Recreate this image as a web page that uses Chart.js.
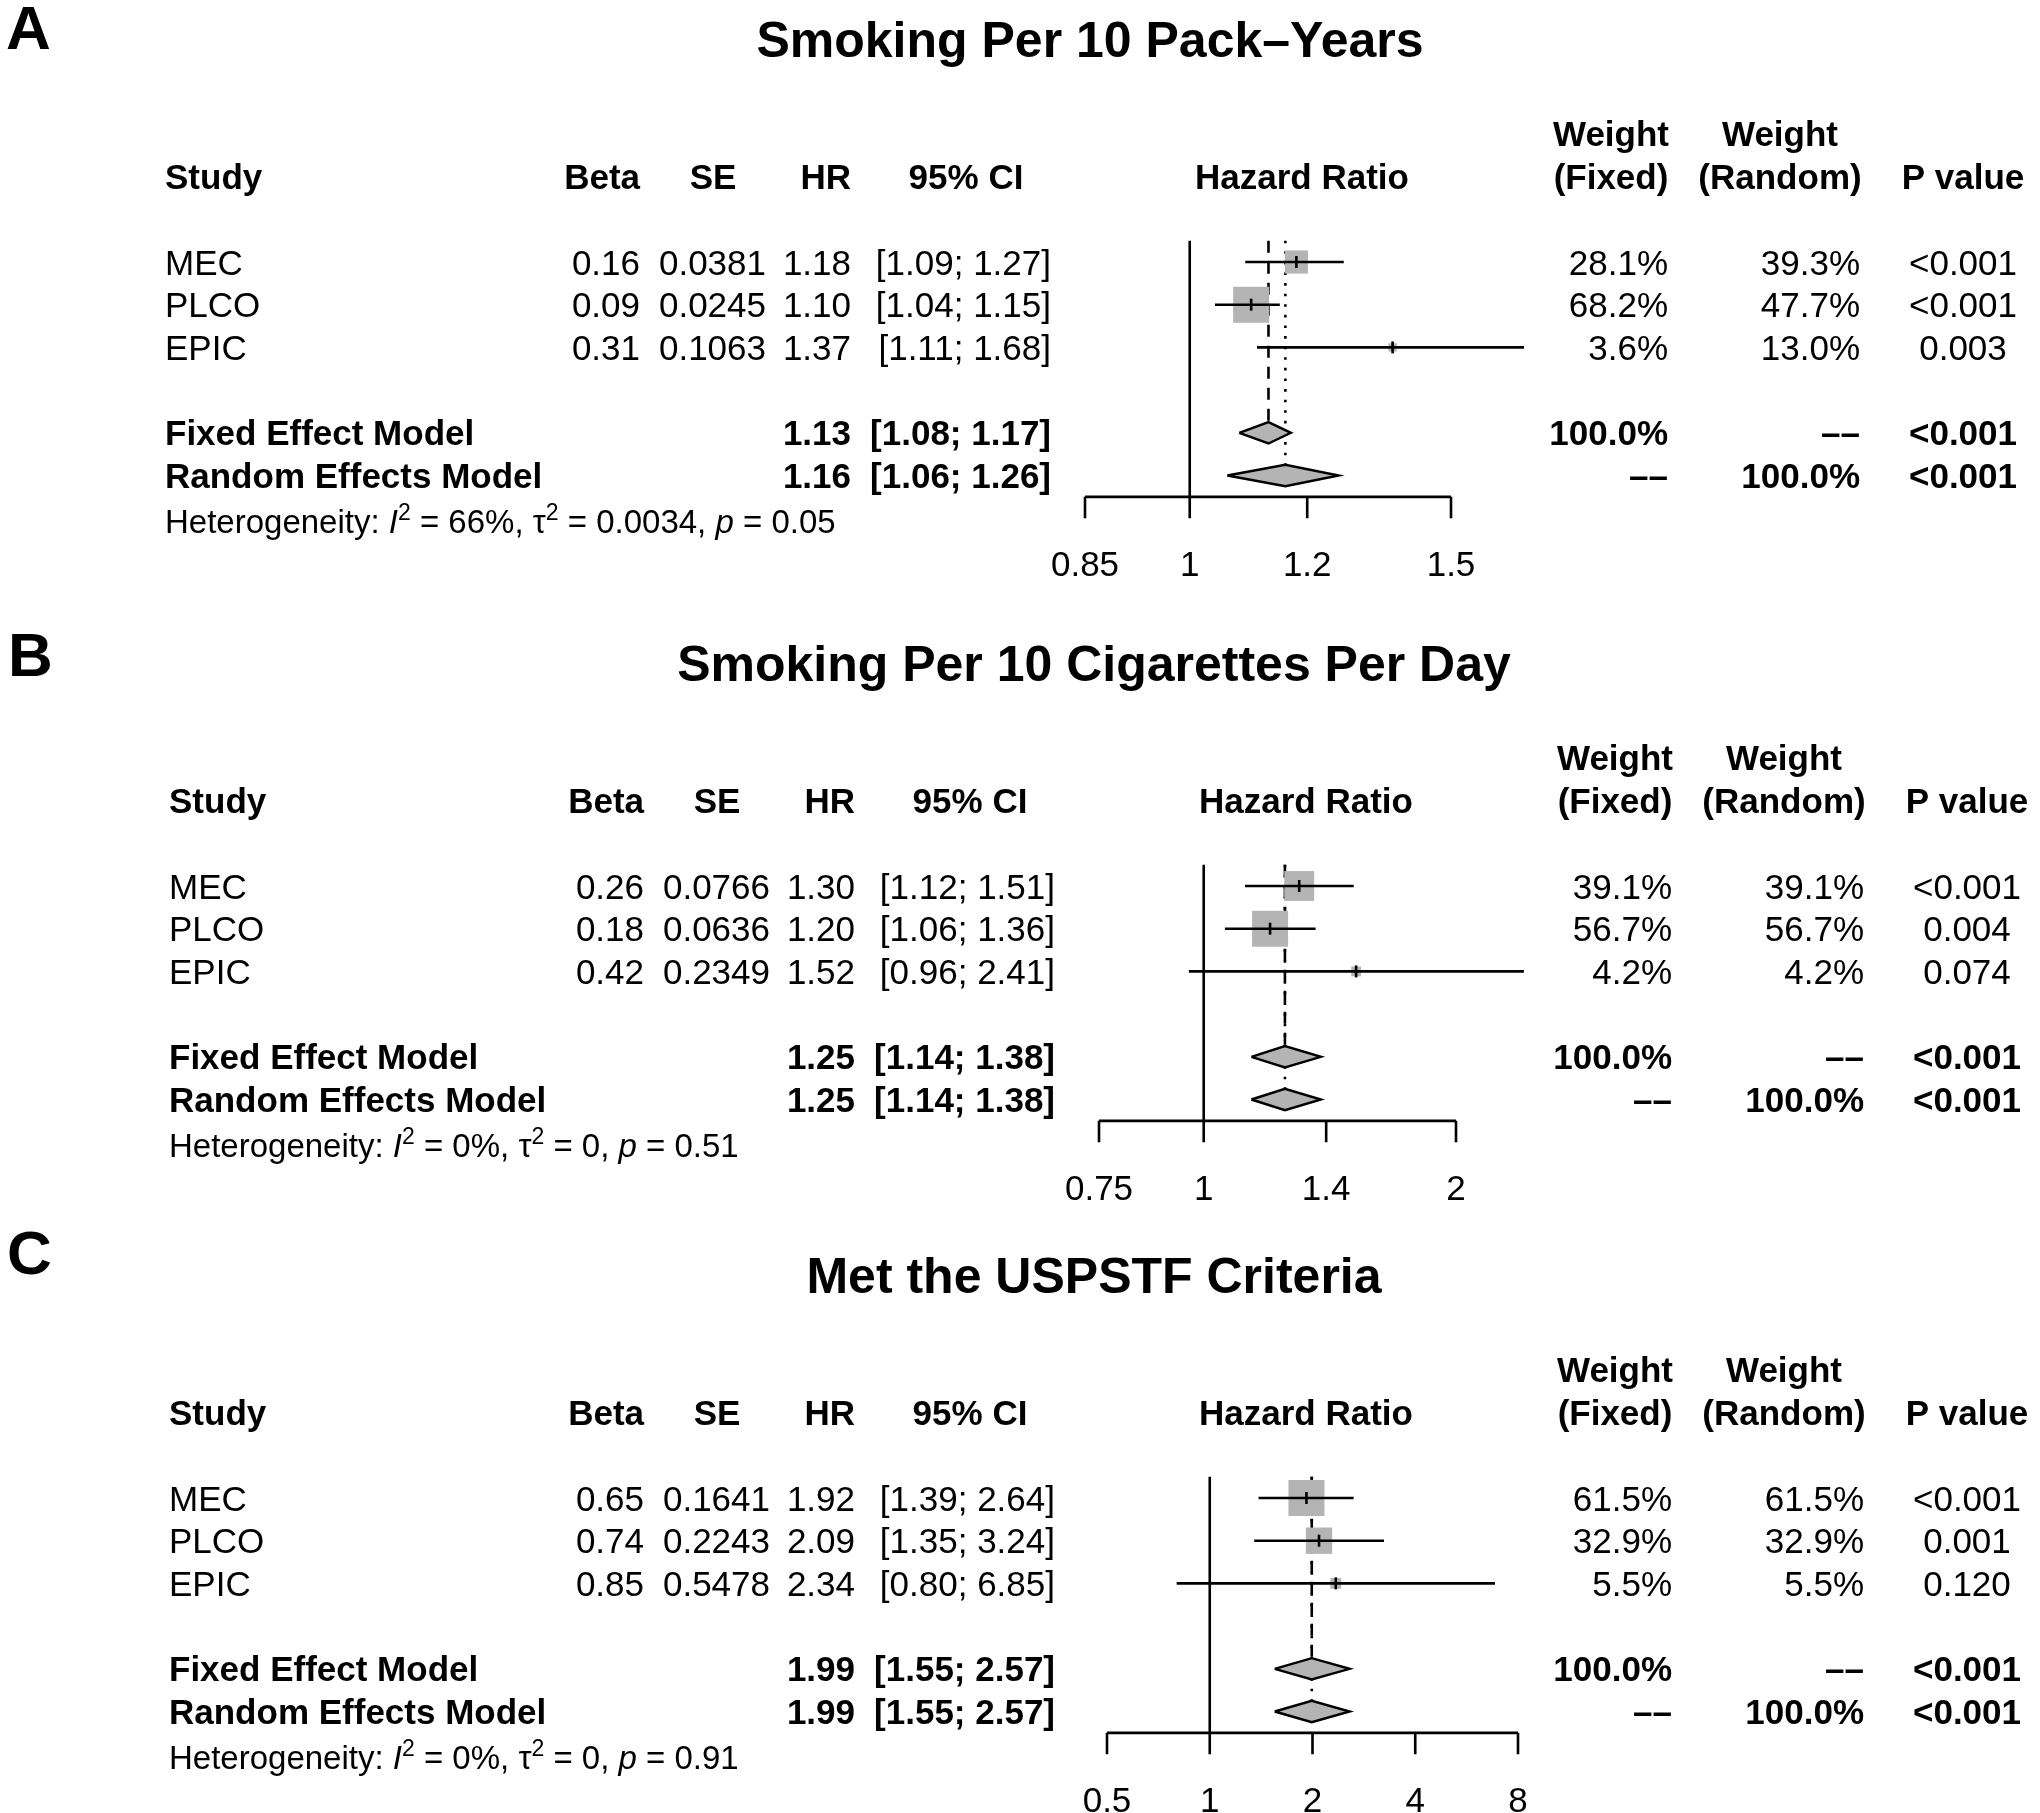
<!DOCTYPE html>
<html>
<head>
<meta charset="utf-8">
<script src="https://cdn.jsdelivr.net/npm/chart.js@4.4.1/dist/chart.umd.min.js"></script>
<style>
html,body{margin:0;padding:0;background:#fff;}
#page{position:relative;width:2040px;height:1813px;background:#fff;overflow:hidden;}
.panel{position:absolute;left:0;width:2040px;}
canvas{display:block;}
</style>
</head>
<body>
<div id="page">
  <div class="panel" style="top:0px;height:600px"><canvas id="c0" width="2040" height="600" style="width:2040px;height:600px"></canvas></div>
  <div class="panel" style="top:600px;height:612px"><canvas id="c1" width="2040" height="612" style="width:2040px;height:612px"></canvas></div>
  <div class="panel" style="top:1212px;height:601px"><canvas id="c2" width="2040" height="601" style="width:2040px;height:601px"></canvas></div>
</div>
<script>
// ---------------- DATA ----------------
const panelLetters = ['A', 'B', 'C'];
const panelTitles = ['Smoking Per 10 Pack–Years', 'Smoking Per 10 Cigarettes Per Day', 'Met the USPSTF Criteria'];
const studies = ['MEC', 'PLCO', 'EPIC'];
const betaValues = [[0.16, 0.09, 0.31], [0.26, 0.18, 0.42], [0.65, 0.74, 0.85]];
const seValues = [[0.0381, 0.0245, 0.1063], [0.0766, 0.0636, 0.2349], [0.1641, 0.2243, 0.5478]];
const hrValues = [[1.18, 1.10, 1.37], [1.30, 1.20, 1.52], [1.92, 2.09, 2.34]];
const ciLower = [[1.09, 1.04, 1.11], [1.12, 1.06, 0.96], [1.39, 1.35, 0.80]];
const ciUpper = [[1.27, 1.15, 1.68], [1.51, 1.36, 2.41], [2.64, 3.24, 6.85]];
const weightFixed = [[28.1, 68.2, 3.6], [39.1, 56.7, 4.2], [61.5, 32.9, 5.5]];
const weightRandom = [[39.3, 47.7, 13.0], [39.1, 56.7, 4.2], [61.5, 32.9, 5.5]];
const pValues = [['<0.001', '<0.001', '0.003'], ['<0.001', '0.004', '0.074'], ['<0.001', '0.001', '0.120']];
const fixedHR = [1.13, 1.25, 1.99];
const fixedLower = [1.08, 1.14, 1.55];
const fixedUpper = [1.17, 1.38, 2.57];
const randomHR = [1.16, 1.25, 1.99];
const randomLower = [1.06, 1.14, 1.55];
const randomUpper = [1.26, 1.38, 2.57];
const fixedP = ['<0.001', '<0.001', '<0.001'];
const randomP = ['<0.001', '<0.001', '<0.001'];
const hetI2 = ['66%', '0%', '0%'];
const hetTau2 = ['0.0034', '0', '0'];
const hetP = ['0.05', '0.51', '0.91'];
const axisTicks = [[0.85, 1, 1.2, 1.5], [0.75, 1, 1.4, 2], [0.5, 1, 2, 4, 8]];

// ---------------- LAYOUT / STYLE ----------------
const FONT = '"Liberation Sans", Arial, Helvetica, sans-serif';
const FS = 35;
const HET_FS = 33;
const ROW = 42.7;
const GRAY = '#b4b4b4';
const LW = 2.6;
const LAYOUT = [
  {top: 0,    height: 600, row0: 262,  axisPx: [1085, 1451], dx: 0, titleX: 1090, letterX: 6, letterRow: -5.5},
  {top: 600,  height: 612, row0: 886,  axisPx: [1099, 1456], dx: 4, titleX: 1094, letterX: 8, letterRow: -5.43},
  {top: 1212, height: 601, row0: 1498, axisPx: [1107, 1518], dx: 4, titleX: 1094, letterX: 7, letterRow: -5.76}
];
const FIXED_ROW = 4, RANDOM_ROW = 5, AXIS_ROW = 5.5, TOP_ROW = -0.5, HALF_DIAMOND = 0.25;
const SQUARE_MAX = 36;

function buildDatasets(p) {
  const ds = [];
  const common = {type: 'line', pointRadius: 0, borderColor: '#000', borderWidth: LW, clip: false, fill: false, tension: 0};
  // line of no effect
  ds.push(Object.assign({}, common, {data: [{x: 1, y: TOP_ROW}, {x: 1, y: AXIS_ROW}], order: 6}));
  // fixed effect line (dashed)
  ds.push(Object.assign({}, common, {data: [{x: fixedHR[p], y: TOP_ROW}, {x: fixedHR[p], y: FIXED_ROW - HALF_DIAMOND}], borderDash: [12, 9], order: 5}));
  // random effect line (dotted)
  ds.push(Object.assign({}, common, {data: [{x: randomHR[p], y: TOP_ROW}, {x: randomHR[p], y: RANDOM_ROW - HALF_DIAMOND}], borderDash: [2.6, 8], order: 5}));
  // squares
  const wmax = Math.max(...weightFixed[p]);
  ds.push({
    type: 'scatter', clip: false, order: 4,
    data: hrValues[p].map((v, i) => ({x: v, y: i})),
    pointStyle: 'rect',
    pointRadius: weightFixed[p].map(w => SQUARE_MAX * Math.sqrt(w / wmax) / Math.SQRT2),
    pointBackgroundColor: GRAY, pointBorderWidth: 0, pointBorderColor: GRAY
  });
  // CI lines
  studies.forEach((s, i) => {
    ds.push(Object.assign({}, common, {data: [{x: ciLower[p][i], y: i}, {x: ciUpper[p][i], y: i}], order: 3}));
  });
  // point estimate ticks
  ds.push({
    type: 'scatter', clip: false, order: 2,
    data: hrValues[p].map((v, i) => ({x: v, y: i})),
    pointStyle: 'line', pointRotation: 90, pointRadius: 6,
    pointBorderColor: '#000', pointBorderWidth: LW
  });
  // diamonds
  [[fixedHR, fixedLower, fixedUpper, FIXED_ROW], [randomHR, randomLower, randomUpper, RANDOM_ROW]].forEach(([est, lo, hi, r]) => {
    ds.push(Object.assign({}, common, {
      order: 1,
      data: [{x: lo[p], y: r}, {x: est[p], y: r - HALF_DIAMOND}, {x: hi[p], y: r}, {x: est[p], y: r + HALF_DIAMOND}, {x: lo[p], y: r}],
      fill: 'shape', backgroundColor: GRAY, borderWidth: 2.4, borderJoinStyle: 'miter'
    }));
  });
  return ds;
}

function textPlugin(p) {
  const L = LAYOUT[p];
  const dx = L.dx;
  return {
    id: 'forestText' + p,
    afterDraw(chart) {
      const ctx = chart.ctx;
      const ys = chart.scales.y, xs = chart.scales.x;
      const Y = r => ys.getPixelForValue(r);
      ctx.save();
      ctx.fillStyle = '#000';
      ctx.textBaseline = 'alphabetic';
      function txt(s, x, row, align, bold, size) {
        const fs = size || FS;
        ctx.font = (bold ? 'bold ' : '') + fs + 'px ' + FONT;
        ctx.textAlign = align;
        ctx.fillText(s, x, Y(row) + 0.358 * fs);
      }
      // panel letter and title
      txt(panelLetters[p], L.letterX, L.letterRow, 'left', true, 62);
      txt(panelTitles[p], L.titleX, -5.22, 'center', true, 50);
      // headers
      txt('Study', 165 + dx, -2, 'left', true);
      txt('Beta', 640 + dx, -2, 'right', true);
      txt('SE', 713 + dx, -2, 'center', true);
      txt('HR', 851 + dx, -2, 'right', true);
      txt('95% CI', 966 + dx, -2, 'center', true);
      txt('Hazard Ratio', 1302 + dx, -2, 'center', true);
      txt('Weight', 1611 + dx, -3, 'center', true);
      txt('(Fixed)', 1611 + dx, -2, 'center', true);
      txt('Weight', 1780 + dx, -3, 'center', true);
      txt('(Random)', 1780 + dx, -2, 'center', true);
      txt('P value', 1963 + dx, -2, 'center', true);
      // study rows
      studies.forEach((s, i) => {
        txt(s, 165 + dx, i, 'left', false);
        txt(betaValues[p][i].toFixed(2), 640 + dx, i, 'right', false);
        txt(seValues[p][i].toFixed(4), 766 + dx, i, 'right', false);
        txt(hrValues[p][i].toFixed(2), 851 + dx, i, 'right', false);
        txt('[' + ciLower[p][i].toFixed(2) + '; ' + ciUpper[p][i].toFixed(2) + ']', 1051 + dx, i, 'right', false);
        txt(weightFixed[p][i].toFixed(1) + '%', 1668 + dx, i, 'right', false);
        txt(weightRandom[p][i].toFixed(1) + '%', 1860 + dx, i, 'right', false);
        txt(pValues[p][i], 1963 + dx, i, 'center', false);
      });
      // summary rows
      txt('Fixed Effect Model', 165 + dx, FIXED_ROW, 'left', true);
      txt(fixedHR[p].toFixed(2), 851 + dx, FIXED_ROW, 'right', true);
      txt('[' + fixedLower[p].toFixed(2) + '; ' + fixedUpper[p].toFixed(2) + ']', 1051 + dx, FIXED_ROW, 'right', true);
      txt('100.0%', 1668 + dx, FIXED_ROW, 'right', true);
      txt('––', 1860 + dx, FIXED_ROW, 'right', true);
      txt(fixedP[p], 1963 + dx, FIXED_ROW, 'center', true);
      txt('Random Effects Model', 165 + dx, RANDOM_ROW, 'left', true);
      txt(randomHR[p].toFixed(2), 851 + dx, RANDOM_ROW, 'right', true);
      txt('[' + randomLower[p].toFixed(2) + '; ' + randomUpper[p].toFixed(2) + ']', 1051 + dx, RANDOM_ROW, 'right', true);
      txt('––', 1668 + dx, RANDOM_ROW, 'right', true);
      txt('100.0%', 1860 + dx, RANDOM_ROW, 'right', true);
      txt(randomP[p], 1963 + dx, RANDOM_ROW, 'center', true);
      // heterogeneity
      const hy = Y(6.08) + 0.358 * HET_FS;
      let cx = 165 + dx;
      const parts = [
        ['Heterogeneity: ', 'n'], ['I', 'i'], ['2', 's'], [' = ' + hetI2[p] + ', ', 'n'],
        ['τ', 'n'], ['2', 's'], [' = ' + hetTau2[p] + ', ', 'n'], ['p', 'i'], [' = ' + hetP[p], 'n']
      ];
      ctx.textAlign = 'left';
      parts.forEach(([s, st]) => {
        let size = HET_FS, dy = 0;
        if (st === 's') { size = Math.round(HET_FS * 0.7); dy = -HET_FS * 0.42; }
        ctx.font = (st === 'i' ? 'italic ' : '') + size + 'px ' + FONT;
        ctx.fillText(s, cx, hy + dy);
        cx += ctx.measureText(s).width;
      });
      // x axis
      const ticks = axisTicks[p];
      const ay = Y(AXIS_ROW), ty = Y(AXIS_ROW + 0.5);
      ctx.strokeStyle = '#000';
      ctx.lineWidth = LW;
      ctx.lineCap = 'butt';
      ctx.beginPath();
      ctx.moveTo(xs.getPixelForValue(ticks[0]), ay);
      ctx.lineTo(xs.getPixelForValue(ticks[ticks.length - 1]), ay);
      ticks.forEach(t => {
        const px = xs.getPixelForValue(t);
        ctx.moveTo(px, ay);
        ctx.lineTo(px, ty);
      });
      ctx.stroke();
      ticks.forEach(t => txt(String(t), xs.getPixelForValue(t), 7.05, 'center', false));
      ctx.restore();
    }
  };
}

function makeChart(p) {
  const L = LAYOUT[p];
  const ticks = axisTicks[p];
  const yMin = -(L.row0 - L.top) / ROW;
  const yMax = yMin + L.height / ROW;
  return new Chart(document.getElementById('c' + p), {
    type: 'scatter',
    data: {datasets: buildDatasets(p)},
    options: {
      responsive: false,
      animation: false,
      devicePixelRatio: 1,
      events: [],
      layout: {autoPadding: false, padding: {left: L.axisPx[0], right: 2040 - L.axisPx[1], top: 0, bottom: 0}},
      plugins: {legend: {display: false}, tooltip: {enabled: false}, title: {display: false}},
      scales: {
        x: {type: 'logarithmic', min: ticks[0], max: ticks[ticks.length - 1], bounds: 'data', display: false},
        y: {type: 'linear', reverse: true, min: yMin, max: yMax, bounds: 'data', display: false}
      }
    },
    plugins: [textPlugin(p)]
  });
}

[0, 1, 2].forEach(makeChart);
</script>
</body>
</html>
